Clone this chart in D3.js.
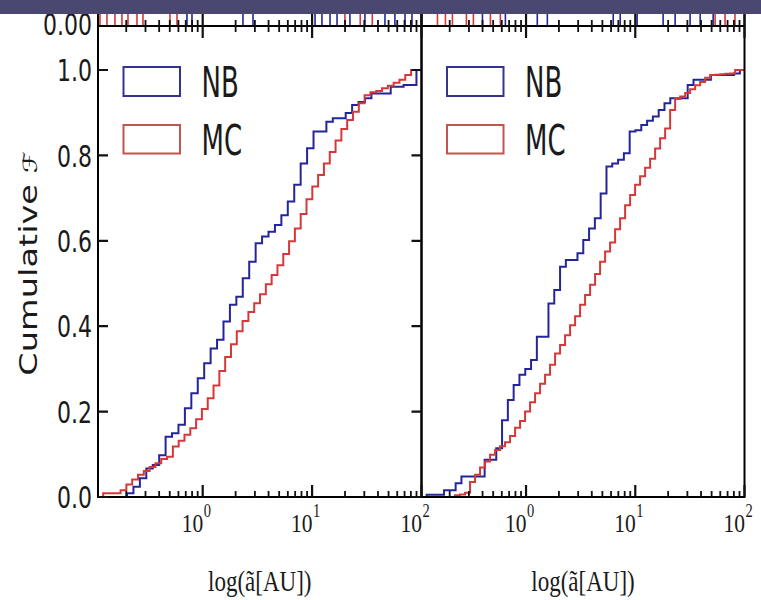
<!DOCTYPE html>
<html><head><meta charset="utf-8">
<script src="https://cdn.jsdelivr.net/npm/d3@7"></script>
<style>html,body{margin:0;padding:0;background:#fff;}svg{display:block;}</style>
</head><body>
<svg id="c" width="761" height="600" viewBox="0 0 761 600"></svg>
<script>
// ---------------- data ----------------
const yTickValues = [0, 0.2, 0.4, 0.6, 0.8, 1.0];
const yTickLabels = ["0.0", "0.2", "0.4", "0.6", "0.8", "1.0"];
const xMajorValues = [1, 10, 100];
const xMinorValues = [0.2, 0.3, 0.4, 0.5, 0.6, 0.7, 0.8, 0.9, 2, 3, 4, 5, 6, 7, 8, 9, 20, 30, 40, 50, 60, 70, 80, 90];
const xMajorExponents = ["0", "1", "2"];
const seriesNames = ["NB", "MC"];
const xLabel = "log(ã[AU])";
const yLabel = "Cumulative ";
const yLabelSymbol = "ℱ";

// cumulative step histograms: [log10 lo, log10 hi] of the bins and cumulative fraction per bin
const nbLeftRange = [-0.927, 2.0125];
const nbLeft = [0, 0, 0, 0, 0.009, 0.024, 0.044, 0.067, 0.075, 0.098,
  0.141, 0.149, 0.169, 0.208, 0.243, 0.278, 0.313, 0.348, 0.368, 0.411,
  0.450, 0.469, 0.512, 0.551, 0.594, 0.610, 0.621, 0.637, 0.660, 0.692,
  0.731, 0.781, 0.817, 0.856, 0.856, 0.879, 0.887, 0.887, 0.899, 0.918,
  0.925, 0.934, 0.945, 0.945, 0.945, 0.961, 0.961, 0.965, 0.965, 1.0];
const mcLeftRange = [-0.910, 1.958];
const mcLeft = [0.009, 0.009, 0.009, 0.016, 0.029, 0.041, 0.052, 0.061, 0.070, 0.079,
  0.089, 0.094, 0.118, 0.132, 0.146, 0.161, 0.182, 0.206, 0.231, 0.261,
  0.295, 0.328, 0.358, 0.388, 0.412, 0.433, 0.454, 0.475, 0.498, 0.520,
  0.543, 0.569, 0.599, 0.629, 0.663, 0.697, 0.727, 0.754, 0.781, 0.808,
  0.835, 0.862, 0.883, 0.902, 0.922, 0.941, 0.948, 0.951, 0.957, 0.963,
  0.970, 0.977, 0.988, 1.0];
const nbRightRange = [-0.910, 2.011];
const nbRight = [0.005, 0.005, 0.005, 0.016, 0.016, 0.032, 0.048, 0.048, 0.048, 0.048,
  0.087, 0.087, 0.114, 0.180, 0.227, 0.262, 0.286, 0.300, 0.321, 0.375,
  0.375, 0.453, 0.485, 0.539, 0.555, 0.555, 0.571, 0.602, 0.629, 0.653,
  0.711, 0.774, 0.781, 0.790, 0.805, 0.856, 0.859, 0.871, 0.881, 0.891,
  0.906, 0.922, 0.934, 0.934, 0.934, 0.965, 0.977, 0.977, 0.977, 0.988,
  0.988, 0.988, 0.988, 0.992, 1.0];
const mcRightRange = [-0.650, 2.006];
const mcRight = [0.004, 0.006, 0.010, 0.035, 0.052, 0.069, 0.083, 0.099, 0.110, 0.119,
  0.128, 0.143, 0.162, 0.178, 0.200, 0.222, 0.243, 0.265, 0.286, 0.310,
  0.336, 0.356, 0.379, 0.402, 0.423, 0.450, 0.473, 0.497, 0.522, 0.551,
  0.575, 0.596, 0.627, 0.653, 0.683, 0.707, 0.731, 0.751, 0.771, 0.792,
  0.816, 0.840, 0.863, 0.906, 0.932, 0.938, 0.946, 0.955, 0.964, 0.972,
  0.982, 0.988, 0.989, 0.990, 0.991, 0.992, 1.0, 1.0];

// remnants of the panel above (cut off by the slide header): bar edges in log10
const prevNBLeft = [-0.144, -0.098, 0.368, 0.460, 1.027, 1.09, 1.164, 1.228, 1.346, 1.483, 1.666, 1.757, 1.849, 1.913];
const prevMCLeft = [-0.939, -0.875, -0.802, -0.738, -0.683, -0.601, -0.546, -0.299, -0.235, 1.30, 1.44, 1.55];
const prevNBRight = [-0.399, -0.189, 0.103, 0.195, 0.798, 0.862, 1.017, 1.255, 1.365, 1.502, 1.594, 1.713];
const prevMCRight = [-0.811, -0.738, -0.674, -0.546, -0.482, -0.326, -0.235, 1.731, 1.822, 1.913];
const prevTickLabel = "0.00";

// ---------------- layout ----------------
const W = 761, H = 600;
const TOP = 26, BOTTOM = 497;
const BAND = 14;
const xDomain = [0.1104, 100];
const NB_COLOR = "#25259a", MC_COLOR = "#d63838";
const NB_LEG = "#34348c", MC_LEG = "#c0564e";
const SANS = "'DejaVu Sans', 'Noto Sans', sans-serif";
const SERIF = "'Liberation Serif', 'DejaVu Serif', serif";
const TXT = "#1a1a1a";
const TICK = "#111";

const svg = d3.select("#c");
svg.append("rect").attr("width", W).attr("height", H).attr("fill", "#fff");

const y = d3.scaleLinear().domain([0, 1.103]).range([BOTTOM, TOP]);

const panels = [
  { x0: 98, x1: 421.5, nb: nbLeft, nbR: nbLeftRange, mc: mcLeft, mcR: mcLeftRange,
    prevNB: prevNBLeft, prevMC: prevMCLeft, yTicks: true },
  { x0: 421.5, x1: 744.5, nb: nbRight, nbR: nbRightRange, mc: mcRight, mcR: mcRightRange,
    prevNB: prevNBRight, prevMC: prevMCRight, yTicks: false }
];
panels.forEach(p => { p.x = d3.scaleLog().domain(xDomain).range([p.x0, p.x1]); });

function stepPoints(range, vals) {
  const n = vals.length, w = (range[1] - range[0]) / n;
  const pts = [[range[0], 0]];
  vals.forEach((v, i) => {
    pts.push([range[0] + i * w, v]);
    pts.push([range[0] + (i + 1) * w, v]);
  });
  return pts;
}

const defs = svg.append("defs");

panels.forEach((p, pi) => {
  const x = p.x;
  const clipId = "clip" + pi;
  defs.append("clipPath").attr("id", clipId)
    .append("rect").attr("x", p.x0).attr("y", TOP).attr("width", p.x1 - p.x0).attr("height", BOTTOM - TOP);
  const g = svg.append("g");

  // remnant bars of the panel above
  [[p.prevNB, NB_COLOR], [p.prevMC, MC_COLOR]].forEach(([arr, col]) => {
    g.selectAll(null).data(arr).enter().append("line")
      .attr("x1", d => x(Math.pow(10, d))).attr("x2", d => x(Math.pow(10, d)))
      .attr("y1", BAND).attr("y2", TOP)
      .attr("stroke", col).attr("stroke-width", 1.6);
  });

  // step curves
  const line = d3.line().x(d => x(Math.pow(10, d[0]))).y(d => y(d[1]));
  const gc = g.append("g").attr("clip-path", `url(#${clipId})`);
  gc.append("path").attr("d", line(stepPoints(p.nbR, p.nb)))
    .attr("fill", "none").attr("stroke", NB_COLOR).attr("stroke-width", 2);
  gc.append("path").attr("d", line(stepPoints(p.mcR, p.mc)))
    .attr("fill", "none").attr("stroke", MC_COLOR).attr("stroke-width", 2);

  // frame
  g.append("rect").attr("x", p.x0).attr("y", TOP).attr("width", p.x1 - p.x0).attr("height", BOTTOM - TOP)
    .attr("fill", "none").attr("stroke", "#000").attr("stroke-width", 2);
  [p.x0, p.x1].forEach(xx => g.append("line").attr("x1", xx).attr("x2", xx)
    .attr("y1", BAND).attr("y2", TOP).attr("stroke", "#000").attr("stroke-width", 2));

  // x tick labels
  xMajorValues.forEach((t, i) => {
    const xx = x(t);
    g.append("text").attr("transform", `translate(${xx + 0.5},531.5) scale(1,1.15)`)
      .attr("text-anchor", "end").attr("font-family", SERIF).attr("font-size", 21.5)
      .attr("fill", TXT).text("10");
    g.append("text").attr("transform", `translate(${xx + 1},517) scale(1,1.25)`)
      .attr("text-anchor", "start").attr("font-family", SERIF).attr("font-size", 14.5)
      .attr("fill", TXT).text(xMajorExponents[i]);
  });

  // x label
  g.append("text").attr("transform", `translate(${(p.x0 + p.x1) / 2},591) scale(1,1.3)`)
    .attr("text-anchor", "middle").attr("font-family", SERIF).attr("font-size", 23)
    .attr("fill", TXT).text(xLabel);

  // legend
  const legRows = [[seriesNames[0], NB_LEG, 67, 29, 96.5], [seriesNames[1], MC_LEG, 125, 28.5, 155]];
  legRows.forEach(([name, col, ry, rh, ty]) => {
    g.append("rect").attr("x", p.x0 + 25.5).attr("y", ry).attr("width", 56.5).attr("height", rh)
      .attr("fill", "none").attr("stroke", col).attr("stroke-width", 2);
    g.append("text").attr("transform", `translate(${p.x0 + 103.5},${ty}) scale(1,1.65)`)
      .attr("font-family", SANS).attr("font-size", 26).attr("fill", TXT).text(name);
  });
});

// y tick labels (left)
yTickValues.forEach((v, i) => {
  svg.append("text").attr("transform", `translate(92,${y(v)}) scale(1,1.4)`)
    .attr("text-anchor", "end").attr("dy", "0.365em")
    .attr("font-family", SANS).attr("font-size", 22).attr("fill", TXT).text(yTickLabels[i]);
});
svg.append("text").attr("transform", `translate(92,24) scale(1,1.4)`)
  .attr("text-anchor", "end").attr("dy", "0.365em")
  .attr("font-family", SANS).attr("font-size", 22).attr("fill", TXT).text(prevTickLabel);

// y label
const yl = svg.append("text").attr("transform", `translate(36.5,263.5) rotate(-90) scale(1.4,1)`)
  .attr("text-anchor", "middle").attr("font-family", SANS).attr("font-size", 24).attr("fill", TXT);
yl.append("tspan").text(yLabel);
yl.append("tspan").attr("font-family", "'DejaVu Serif', 'DejaVu Sans', serif").attr("font-size", 20).text(yLabelSymbol);

// slide header band
svg.append("rect").attr("x", 0).attr("y", 0).attr("width", W).attr("height", BAND).attr("fill", "#4a4870");

// ---------- tick marks: paths built from the scales ----------
panels.forEach(p => {
  const x = p.x;
  const major = d3.path(), minor = d3.path();
  xMajorValues.forEach(t => {
    major.moveTo(x(t), BOTTOM); major.lineTo(x(t), BOTTOM - 12);
    major.moveTo(x(t), TOP); major.lineTo(x(t), TOP + 12);
    major.moveTo(x(t), TOP); major.lineTo(x(t), BAND);
  });
  xMinorValues.forEach(t => {
    minor.moveTo(x(t), BOTTOM); minor.lineTo(x(t), BOTTOM - 6);
    minor.moveTo(x(t), TOP); minor.lineTo(x(t), TOP + 6);
    minor.moveTo(x(t), TOP); minor.lineTo(x(t), TOP - 6);
  });
  if (p.yTicks) {
    yTickValues.forEach(v => {
      major.moveTo(p.x0, y(v)); major.lineTo(p.x0 + 10, y(v));
      major.moveTo(p.x1, y(v)); major.lineTo(p.x1 - 10, y(v));
    });
  }
  svg.append("path").attr("d", major.toString())
    .attr("fill", "none").attr("stroke", TICK).attr("stroke-width", 2.2);
  svg.append("path").attr("d", minor.toString())
    .attr("fill", "none").attr("stroke", TICK).attr("stroke-width", 1.8);
});
</script>
</body></html>
